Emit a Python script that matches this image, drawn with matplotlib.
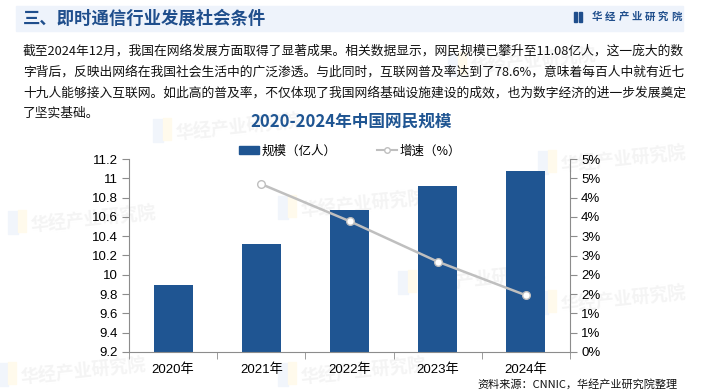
import math
import matplotlib
matplotlib.use('Agg')
import matplotlib.pyplot as plt
from matplotlib.patches import Rectangle
from matplotlib.lines import Line2D

plt.rcParams['font.family'] = ['Liberation Sans', 'Noto Sans CJK SC', 'DejaVu Sans']

# data
years = ['2020年', '2021年', '2022年', '2023年', '2024年']
scale = [9.89, 10.32, 10.67, 10.92, 11.08]          # 规模（亿人）
growth_years = ['2021年', '2022年', '2023年', '2024年']
growth = [4.35, 3.39, 2.34, 1.47]                  # 增速（%）
left_ticks = [9.2, 9.4, 9.6, 9.8, 10, 10.2, 10.4, 10.6, 10.8, 11, 11.2]
right_ticks = [0, 0.5, 1, 1.5, 2, 2.5, 3, 3.5, 4, 4.5, 5]

header = '三、即时通信行业发展社会条件'
para = [
    '截至2024年12月，我国在网络发展方面取得了显著成果。相关数据显示，网民规模已攀升至11.08亿人，这一庞大的数',
    '字背后，反映出网络在我国社会生活中的广泛渗透。与此同时，互联网普及率达到了78.6%，意味着每百人中就有近七',
    '十九人能够接入互联网。如此高的普及率，不仅体现了我国网络基础设施建设的成效，也为数字经济的进一步发展奠定',
    '了坚实基础。',
]
chart_title = '2020-2024年中国网民规模'
source = '资料来源：CNNIC，华经产业研究院整理'

W, H = 704, 391
BAR = '#1F5592'
GRID = '#8C8C8C'
CJK = ['Noto Sans CJK SC', 'DejaVu Sans']

fig = plt.figure(figsize=(W / 100, H / 100), dpi=100)
fig.patch.set_facecolor('white')

def fx(px):
    return px / W

def fy(py):
    return 1 - py / H

# faint watermarks (behind everything)
wm = [(30, 220), (175, 128), (300, 205), (470, 62), (560, 160),
      (560, 300), (300, 372), (20, 372), (420, 280)]
for x, y in wm:
    fig.text(fx(x), fy(y), '华经产业研究院', family=CJK, fontsize=13, weight='bold',
             color='#F4F4F4', rotation=6, ha='left', va='center', zorder=-2)
    fig.patches.append(Rectangle((fx(x - 22), fy(y + 14)), fx(10), 0.06, transform=fig.transFigure,
                                 color='#F1F5FB', zorder=-3))
    fig.patches.append(Rectangle((fx(x - 12), fy(y + 12)), fx(8), 0.055, transform=fig.transFigure,
                                 color='#FFFAEC', zorder=-3))

# header band
fig.patches.append(Rectangle((fx(16), fy(31)), fx(667), 25 / H, transform=fig.transFigure,
                             color='#EEF3FB', zorder=1))
fig.text(fx(23), fy(18.5), header, family=CJK, fontsize=12.5, weight='bold',
         color='#1F4E8C', ha='left', va='center', zorder=2)
fig.patches.append(Rectangle((fx(574), fy(22)), fx(3), 10 / H, transform=fig.transFigure,
                             color='#1F4E8C', zorder=2))
fig.patches.append(Rectangle((fx(579), fy(22)), fx(3), 10 / H, transform=fig.transFigure,
                             color='#1F4E8C', zorder=2))
for i, ch in enumerate('华经产业研究院'):
    fig.text(fx(592 + i * 13.2), fy(17), ch, family=CJK, fontsize=7.5, weight='bold',
             color='#1F4E8C', ha='left', va='center', zorder=2)

# paragraph
for i, line in enumerate(para):
    fig.text(fx(23), fy(51 + i * 20.8), line, family=CJK, fontsize=9.2,
             color='#111111', ha='left', va='center', zorder=2)

# chart title
fig.text(fx(351), fy(122), chart_title, family=CJK, fontsize=12, weight='bold',
         color='#1F5592', ha='center', va='center')

# axes
ax = fig.add_axes([fx(129), fy(352), fx(570 - 129), (352 - 159) / H])
ax.patch.set_alpha(0)
x = list(range(len(years)))
ax.bar(x, scale, width=0.44, color=BAR, zorder=2)
ax.set_ylim(9.2, 11.2)
ax.set_xlim(-0.5, len(years) - 0.5)
ax.set_yticks(left_ticks)
ax.set_yticklabels([f'{v:g}' for v in left_ticks])
ax.set_xticks(x)
ax.set_xticklabels(years, family=['Liberation Sans', 'Noto Sans CJK SC'])
ax.set_xticks([i - 0.5 for i in range(len(years) + 1)], minor=True)
ax.tick_params(axis='x', which='major', length=0, pad=8, labelsize=9.5)
ax.tick_params(axis='x', which='minor', length=5, color=GRID, direction='out')
ax.tick_params(axis='y', length=5, color=GRID, labelsize=9.5, pad=3)
for s in ['top', 'right']:
    ax.spines[s].set_visible(False)
for s in ['left', 'bottom']:
    ax.spines[s].set_color(GRID)

ax2 = ax.twinx()
gx = [years.index(g) for g in growth_years]
ax2.plot(gx, growth, color='#BFBFBF', lw=1.8, marker='o', markersize=5.5,
         markerfacecolor='white', markeredgecolor='#BFBFBF', markeredgewidth=1, zorder=3)
ax2.set_ylim(0, 5)
ax2.set_yticks(right_ticks)
ax2.set_yticklabels([f'{int(math.floor(v + 0.5))}%' for v in right_ticks])
ax2.tick_params(axis='y', length=5, color=GRID, labelsize=9.5, pad=3)
for s in ['top', 'left', 'bottom']:
    ax2.spines[s].set_visible(False)
ax2.spines['right'].set_color(GRID)

# legend
handles = [Rectangle((0, 0), 1, 1, color=BAR),
           Line2D([], [], color='#BFBFBF', lw=1.5, marker='o', markersize=4,
                  markerfacecolor='white', markeredgecolor='#BFBFBF')]
fig.legend(handles, ['规模（亿人）', '增速（%）'], loc='center', bbox_to_anchor=(fx(350), fy(151)),
           ncol=2, frameon=False, prop={'family': CJK, 'size': 9}, handlelength=1.6,
           handleheight=0.6, handletextpad=0.2, columnspacing=3.2)

fig.text(fx(678), fy(384), source, family=CJK, fontsize=8, color='#111111',
         ha='right', va='center')

fig.savefig('out.png', dpi=100)
